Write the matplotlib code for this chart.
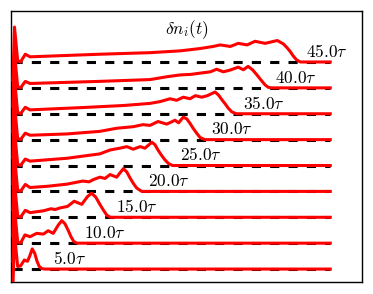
import matplotlib
matplotlib.use("Agg")
import matplotlib.pyplot as plt

plt.rcParams['mathtext.fontset'] = 'cm'

times = [5, 10, 15, 20, 25, 30, 35, 40, 45]
labels = [r"$%.1f\tau$" % t for t in times]
title = r"$\delta n_i(t)$"

x_05 = [0, 0.5, 1.5, 2.4, 3.6, 4.6, 5.3, 6.1, 6.9, 7.6, 8.3, 9.1, 10, 100]
y_05 = [-0.7, 1.35, 0.1, 0.12, 0.35, 0.3, 0.5, 0.78, 0.6, 0.3, 0.1, 0.02, 0, 0]

x_10 = [0, 0.5, 1.5, 2.4, 3.8, 5.4, 7.5, 9.6, 11.1, 12.7, 14.3, 15.4, 16.4, 17.4, 18.3, 19.2, 20.2, 100]
y_10 = [-0.7, 1.35, 0.05, 0.0, 0.32, 0.25, 0.38, 0.35, 0.48, 0.38, 0.7, 0.87, 0.75, 0.5, 0.25, 0.06, 0, 0]

x_15 = [0, 0.5, 1.5, 2.4, 3.9, 5.4, 9.6, 12.0, 13.3, 14.8, 17.2, 19.3, 21.7, 23.5, 24.8, 26.1, 27.4, 28.5, 29.6, 30.7, 100]
y_15 = [-0.7, 1.35, 0.05, 0.0, 0.27, 0.18, 0.25, 0.33, 0.3, 0.36, 0.42, 0.62, 0.5, 0.8, 0.93, 0.78, 0.5, 0.28, 0.08, 0, 0]

x_20 = [0, 0.5, 1.5, 2.4, 3.9, 5.4, 11, 17, 22, 24, 25.4, 27.4, 29.0, 30.6, 32.7, 34.8, 35.9, 36.9, 38, 39, 40.6, 100]
y_20 = [-0.7, 1.35, 0.05, 0.0, 0.27, 0.15, 0.2, 0.28, 0.4, 0.37, 0.46, 0.55, 0.5, 0.65, 0.55, 0.88, 0.75, 0.52, 0.3, 0.13, 0, 0]

x_25 = [0, 0.5, 1.5, 2.4, 3.9, 5.4, 17, 27.4, 30.6, 33.7, 35.9, 37.9, 40.1, 41.6, 43.8, 44.8, 45.7, 46.8, 47.9, 49, 50.3, 100]
y_25 = [-0.7, 1.35, 0.05, 0.0, 0.25, 0.17, 0.28, 0.45, 0.6, 0.67, 0.73, 0.63, 0.73, 0.67, 0.9, 0.8, 0.6, 0.4, 0.22, 0.08, 0, 0]

x_30 = [0, 0.5, 1.5, 2.4, 3.9, 5.4, 17, 27.4, 32.7, 37.9, 41, 43.2, 45.7, 48.5, 51.1, 52.2, 53.7, 54.8, 55.8, 56.9, 57.9, 59, 60.5, 100]
y_30 = [-0.7, 1.35, 0.05, 0.0, 0.25, 0.17, 0.22, 0.32, 0.44, 0.5, 0.58, 0.55, 0.7, 0.6, 0.75, 0.65, 0.87, 0.8, 0.63, 0.42, 0.25, 0.08, 0, 0]

x_35 = [0, 0.5, 1.5, 2.4, 3.9, 5.4, 22, 35, 43.2, 46.4, 49.5, 51.6, 53.7, 55.8, 57.5, 59.5, 61.3, 63.7, 64.8, 65.8, 66.9, 67.9, 69, 70.4, 100]
y_35 = [-0.7, 1.35, 0.05, 0.0, 0.25, 0.15, 0.24, 0.32, 0.4, 0.47, 0.58, 0.52, 0.64, 0.58, 0.7, 0.64, 0.7, 0.84, 0.72, 0.55, 0.38, 0.21, 0.07, 0, 0]

x_40 = [0, 0.5, 1.5, 2.4, 3.9, 5.4, 27, 43.2, 48.5, 52.7, 56, 59, 62.2, 64.2, 66.3, 68.5, 71, 72.6, 74.1, 75.5, 76.9, 78.2, 79.5, 80.5, 81.5, 100]
y_40 = [-0.7, 1.35, 0.05, 0.0, 0.25, 0.17, 0.25, 0.32, 0.43, 0.5, 0.52, 0.57, 0.62, 0.72, 0.62, 0.69, 0.8, 0.7, 0.83, 0.7, 0.5, 0.3, 0.11, 0.02, 0, 0]

x_45 = [0, 0.5, 1.5, 2.4, 3.9, 5.4, 27.4, 43.2, 52.7, 59, 63.1, 65.3, 68.5, 71, 73.8, 76.3, 79.5, 83.3, 85.2, 86.4, 87.4, 88.4, 89.4, 90.6, 100]
y_45 = [-0.7, 1.35, 0.05, 0.0, 0.3, 0.2, 0.3, 0.36, 0.43, 0.52, 0.6, 0.66, 0.6, 0.72, 0.66, 0.8, 0.72, 0.83, 0.7, 0.55, 0.4, 0.22, 0.08, 0, 0]

xs = [x_05, x_10, x_15, x_20, x_25, x_30, x_35, x_40, x_45]
ys = [y_05, y_10, y_15, y_20, y_25, y_30, y_35, y_40, y_45]
offsets = [1, 2, 3, 4, 5, 6, 7, 8, 9]
n_sites = 100

fig = plt.figure(figsize=(3.73, 2.94), dpi=100)
ax = fig.add_axes([11 / 373, 12 / 294, 351 / 373, 271 / 294])

for k, (t, x, y, off, lab) in enumerate(zip(times, xs, ys, offsets, labels)):
    ax.plot([0, n_sites], [off, off], color='black', lw=2.2,
            dashes=(3, 3), zorder=2)
    ax.plot(x, [v + off for v in y], color='#ff0000', lw=2.2,
            solid_joinstyle='round', zorder=3)
    ax.text(2 * t + 2.5, off + 0.2, lab, fontsize=12.5, ha='left',
            va='baseline', zorder=4)

ax.text(0.5, 0.93, title, transform=ax.transAxes, fontsize=12.5,
        ha='center', va='center')

ax.set_xlim(-0.6, 110)
ax.set_ylim(0.5, 10.97)
ax.set_xticks([])
ax.set_yticks([])
for s in ax.spines.values():
    s.set_linewidth(1.0)

fig.savefig("out.png", dpi=100)
